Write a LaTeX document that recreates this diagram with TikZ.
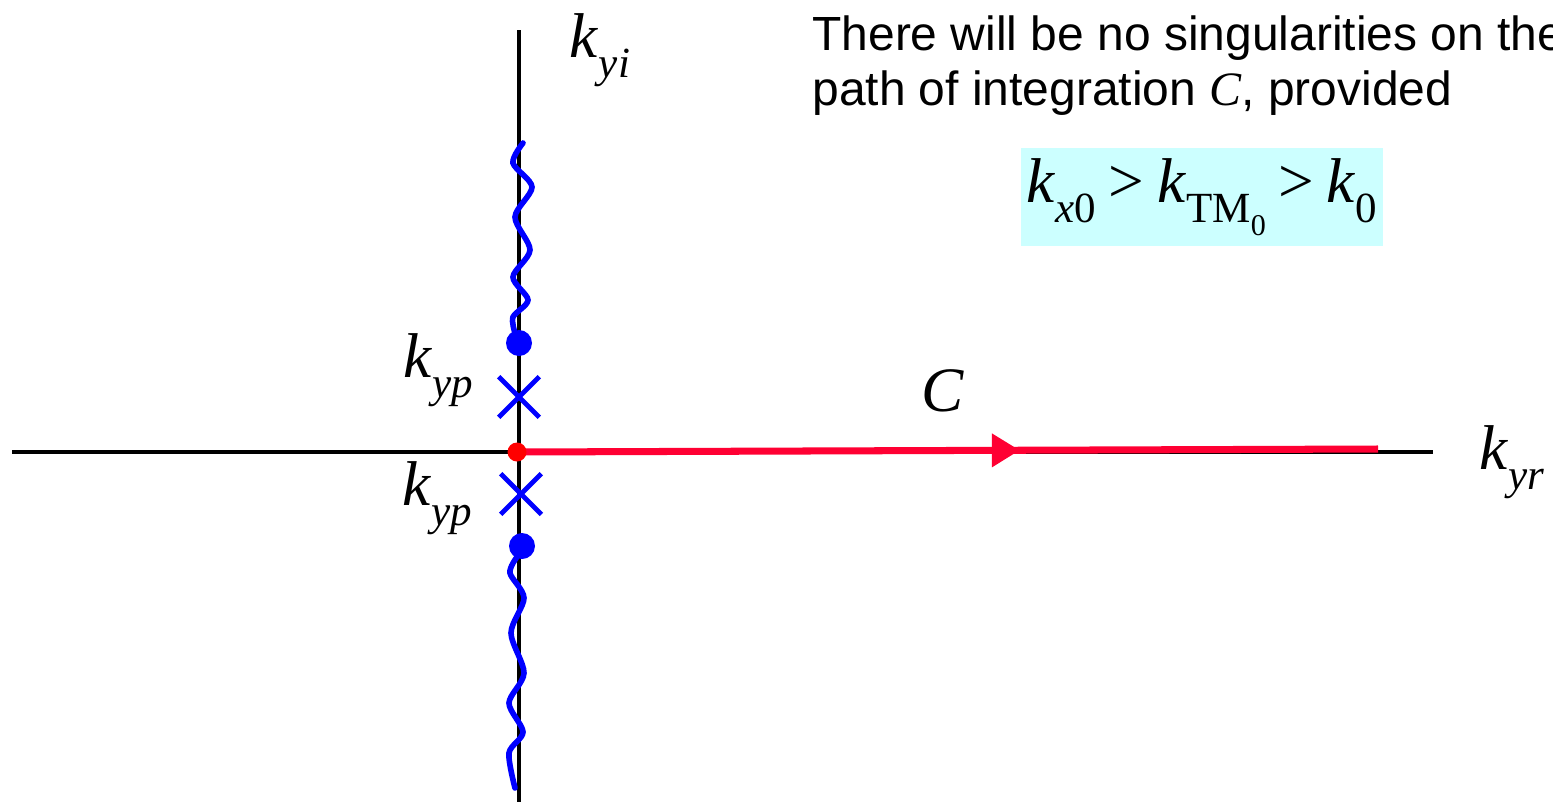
\documentclass[tikz,border=0pt]{standalone}
\usepackage{fontspec}
\usepackage{graphicx}
\setmainfont{Liberation Sans}
\newfontfamily\tnr{Liberation Serif}
\usetikzlibrary{shapes.misc,arrows.meta,decorations.markings}
\definecolor{pathred}{RGB}{255,0,51}
\definecolor{boxcyan}{RGB}{204,255,255}
\newcommand{\kvar}[1]{\textit{k}\raisebox{-0.32em}{\scalebox{0.68}{#1}}}
\newcommand{\gt}{\hspace{0.2em}>\hspace{0.2em}}

\tikzset{
  axis/.style={line width=2.3pt},
  cut/.style={blue, line width=3.2pt, line cap=round},
  pole/.style={cross out, draw=blue, line width=2.7pt, minimum size=0.72cm, inner sep=0pt},
  zero/.style={circle, fill=blue, minimum size=0.52cm, inner sep=0pt},
  lbl/.style={font=\tnr\fontsize{36}{40}\selectfont, inner sep=0pt},
  note/.style={font=\fontsize{27.3}{31}\selectfont, inner sep=0pt, anchor=base west},
}

\begin{document}
\begin{tikzpicture}[x=0.02cm,y=-0.02cm]
\useasboundingbox (0,0) rectangle (1553,802);

% axes
\coordinate (xl) at (12,452);
\coordinate (xr) at (1433,452);
\coordinate (yt) at (519,30);
\coordinate (yb) at (519,802);
\draw[axis] (xl) -- (xr);
\draw[axis] (yt) -- (yb);

% branch cuts
\draw[cut] plot[smooth] coordinates {(523,143) (513,163) (532,187) (515,217) (530,250) (513,277) (528,300) (513,317) (515,333)};
\draw[cut] plot[smooth] coordinates {(517,557) (510,573) (524,598) (511,633) (524,673) (509,703) (523,732) (509,753) (515,788)};

% zeros and poles
\node[zero] (z1) at (519,343) {};
\node[zero] (z2) at (522,546) {};
\node[pole] (p1) at (519,397) {};
\node[pole] (p2) at (521,494) {};

% path of integration
\coordinate (o) at (517,452);
\coordinate (cend) at (1378,449);
\draw[pathred, line width=4pt, postaction={decorate},
  decoration={markings, mark=at position 0.584 with {\arrow{Triangle[length=0.56cm,width=0.64cm]}}}]
  (o) -- (cend);
\node[circle, fill=red, minimum size=0.38cm, inner sep=0pt] (orig) at (o) {};

% labels
\node[lbl] (kyi) at (600,50) {\kvar{\textit{yi}}};
\node[lbl] (kyp1) at (438,370) {\kvar{\textit{yp}}};
\node[lbl] (kyp2) at (437,498) {\kvar{\textit{yp}}};
\node[lbl] (cl) at (943,391) {\textit{C}};
\node[lbl] (kyr) at (1512,462) {\kvar{\textit{yr}}};

% remark
\node[note] (n1) at (812,50) {There will be no singularities on the};
\node[note] (n2) at (812,105) {path of integration {\tnr\itshape C}, provided};
\node[fill=boxcyan, minimum width=7.24cm, minimum height=1.96cm, inner sep=0pt,
  font=\tnr\fontsize{36}{40}\selectfont] (cond) at (1202,197)
  {\kvar{\textit{x}0}\gt\kvar{TM\raisebox{-0.3em}{\scalebox{0.7}{0}}}\gt\kvar{0}};
\end{tikzpicture}
\end{document}
